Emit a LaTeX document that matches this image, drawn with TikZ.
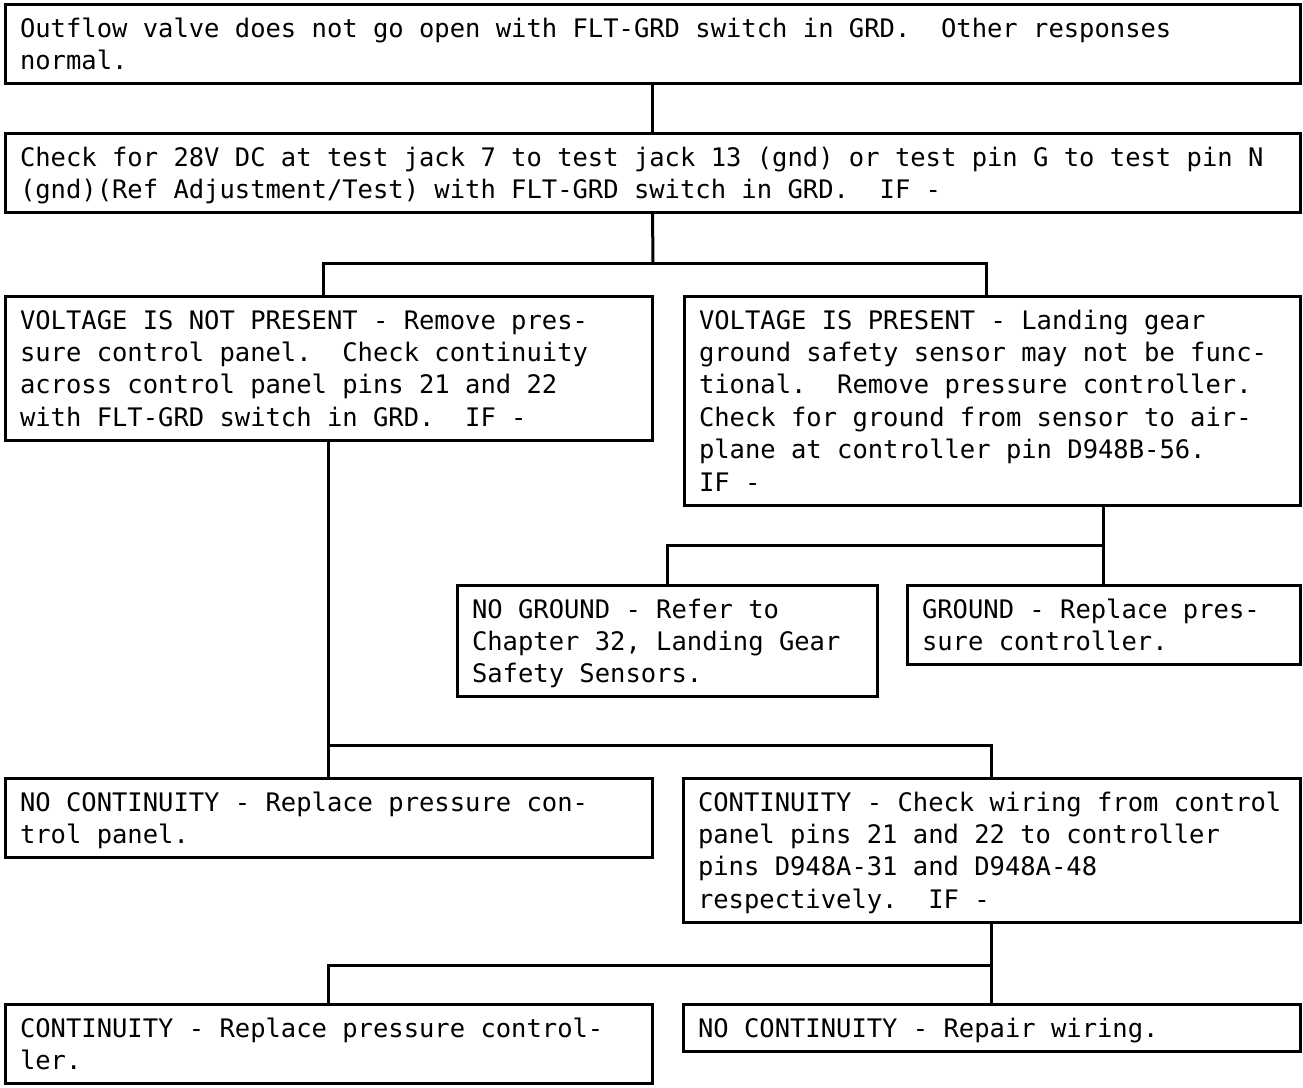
\documentclass[tikz,border=0pt]{standalone}
\usepackage{fontspec}
\newfontfamily\boxmono{DejaVu Sans Mono}
\usetikzlibrary{calc}
% typewriter spacing: every blank as wide as one character cell
\newcommand\cellspace{\spaceskip=15.352pt\relax\xspaceskip=15.352pt\relax}
% fixed-height strut: every line gets the same height and depth
\newcommand\bxs{\cellspace\rule[-6.7pt]{0pt}{32.4pt}}
\begin{document}
\frenchspacing
\begin{tikzpicture}[x=1pt,y=-1pt,
  stepbox/.style={draw, line width=3pt, rectangle, anchor=north west,
    outer sep=0pt, inner xsep=15pt, inner ysep=7.3pt, align=left,
    font=\boxmono\fontsize{25.5pt}{32.4pt}\selectfont},
  conn/.style={line width=3pt}]
\useasboundingbox (0,0) rectangle (1303,1087);

\node[stepbox, text width=1265pt] (b1) at (5,4)
  {\bxs Outflow valve does not go open with FLT-GRD switch in GRD.\ \ Other responses\\
   \bxs normal.};
\node[stepbox, text width=1265pt] (b2) at (5,133)
  {\bxs Check for 28V DC at test jack 7 to test jack 13 (gnd) or test pin G to test pin N\\
   \bxs (gnd)(Ref Adjustment/Test) with FLT-GRD switch in GRD.\ \ IF -};
\node[stepbox, text width=617pt] (b3) at (5,296)
  {\bxs VOLTAGE IS NOT PRESENT - Remove pres-\\
   \bxs sure control panel.\ \ Check continuity\\
   \bxs across control panel pins 21 and 22\\
   \bxs with FLT-GRD switch in GRD.\ \ IF -};
\node[stepbox, text width=586pt] (b4) at (684,296)
  {\bxs VOLTAGE IS PRESENT - Landing gear\\
   \bxs ground safety sensor may not be func-\\
   \bxs tional.\ \ Remove pressure controller.\\
   \bxs Check for ground from sensor to air-\\
   \bxs plane at controller pin D948B-56.\\
   \bxs IF -};
\node[stepbox, text width=390pt] (b5) at (457,585)
  {\bxs NO GROUND - Refer to\\
   \bxs Chapter 32, Landing Gear\\
   \bxs Safety Sensors.};
\node[stepbox, text width=363pt] (b6) at (907,585)
  {\bxs GROUND - Replace pres-\\
   \bxs sure controller.};
\node[stepbox, text width=617pt] (b7) at (5,778)
  {\bxs NO CONTINUITY - Replace pressure con-\\
   \bxs trol panel.};
\node[stepbox, text width=587pt] (b8) at (683,778)
  {\bxs CONTINUITY - Check wiring from control\\
   \bxs panel pins 21 and 22 to controller\\
   \bxs pins D948A-31 and D948A-48\\
   \bxs respectively.\ \ IF -};
\node[stepbox, text width=617pt] (b9) at (5,1004)
  {\bxs CONTINUITY - Replace pressure control-\\
   \bxs ler.};
\node[stepbox, text width=587pt] (b10) at (683,1004)
  {\bxs NO CONTINUITY - Repair wiring.};

% junction points of the branching connectors
\coordinate (j1) at (653,263);
\coordinate (j2) at (1104,545);
\coordinate (j3) at (992,745);
\coordinate (j4) at (992,965);

\draw[conn] (b1.south) -- (b2.north);
\draw[conn] (b2.south) -- (j1);
\draw[conn] ($(b3.north)+(-5,0)$) |- (j1) -| ($(b4.north)+(-6,0)$);

\draw[conn] (b4.south -| b6.north) -- (b6.north);
\draw[conn] (b5.north) |- (j2);

\draw[conn] (b3.south) -- (b7.north);
\draw[conn] (b8.north) |- (j3);
\draw[conn] (j3) -| (b7.north);

\draw[conn] (b8.south) -- (b10.north);
\draw[conn] (b9.north) |- (j4);
\end{tikzpicture}
\end{document}
